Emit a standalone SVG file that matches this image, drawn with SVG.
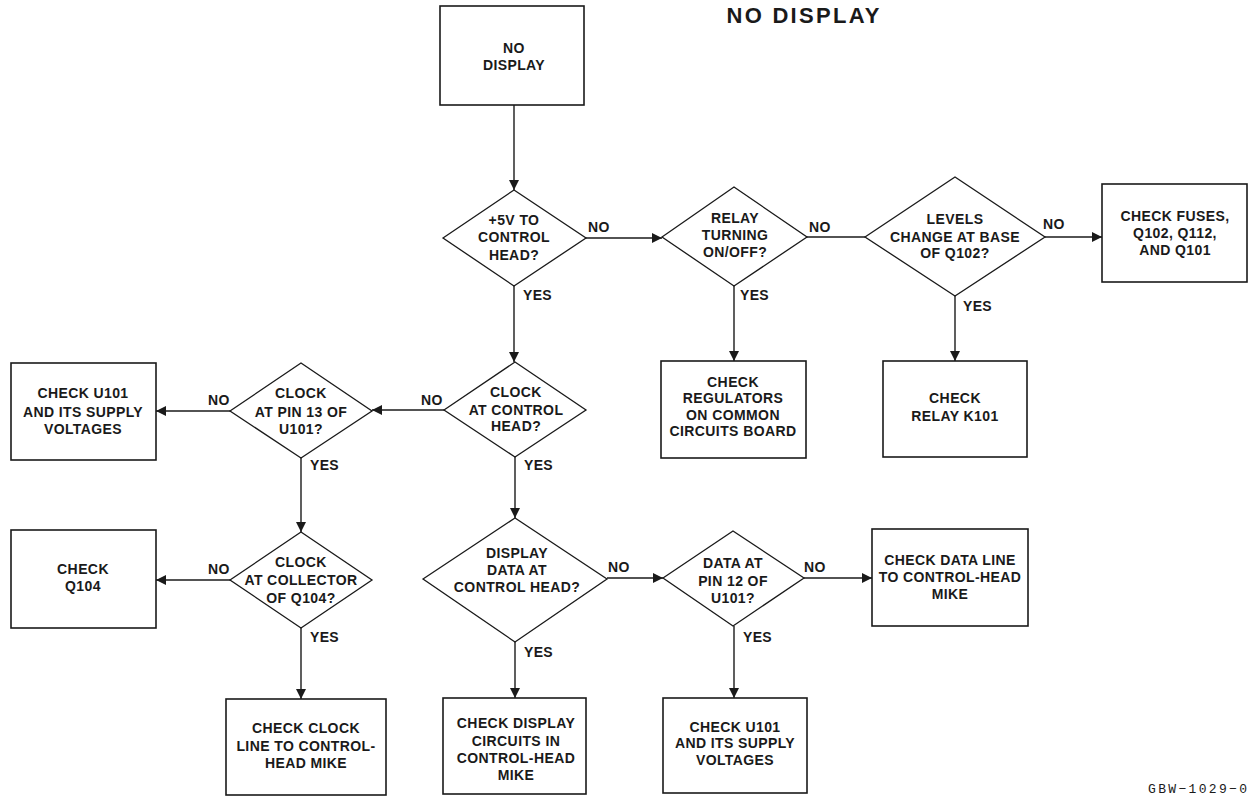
<svg xmlns="http://www.w3.org/2000/svg" width="1252" height="797" viewBox="0 0 1252 797">
<defs>
<marker id="ah" viewBox="0 0 10 10" refX="10" refY="5" markerWidth="11" markerHeight="10" markerUnits="userSpaceOnUse" orient="auto">
<path d="M0,0 L10,5 L0,10 Z" fill="#1a1a1a"/>
</marker>
<style>
.box{fill:#fff;stroke:#1a1a1a;stroke-width:1.6}
.dia{fill:#fff;stroke:#1a1a1a;stroke-width:1.3}
.t{font-family:"Liberation Sans",Arial,sans-serif;font-weight:bold;font-size:14px;fill:#1a1a1a;text-anchor:middle;letter-spacing:0.4px}
.lb{font-family:"Liberation Sans",Arial,sans-serif;font-weight:bold;font-size:14px;fill:#1a1a1a;letter-spacing:0.3px}
.c{fill:none;stroke:#1a1a1a;stroke-width:1.4}
.a{marker-end:url(#ah)}
</style>
</defs>
<rect width="1252" height="797" fill="#fff"/>
<text x="803" y="23" font-family="Liberation Sans,Arial,sans-serif" font-weight="bold" font-size="22" fill="#1a1a1a" text-anchor="middle" textLength="153" lengthAdjust="spacing">NO DISPLAY</text>
<text x="1247" y="793" font-family="Liberation Mono,DejaVu Sans Mono,monospace" font-size="13" fill="#1a1a1a" text-anchor="end" textLength="99" lengthAdjust="spacing">GBW−1029−0</text>

<g id="connectors">
<line class="c a" x1="514" y1="105" x2="514" y2="190"/>
<line class="c a" x1="586" y1="238" x2="662" y2="238"/>
<line class="c" x1="807" y1="237" x2="865" y2="237"/>
<line class="c a" x1="1045" y1="237" x2="1102" y2="237"/>
<line class="c a" x1="514" y1="286" x2="514" y2="362"/>
<line class="c a" x1="734" y1="286" x2="734" y2="361"/>
<line class="c a" x1="955" y1="296" x2="955" y2="361"/>
<line class="c a" x1="444" y1="410" x2="372" y2="410"/>
<line class="c a" x1="230" y1="411" x2="156" y2="411"/>
<line class="c a" x1="301" y1="458" x2="301" y2="532"/>
<line class="c a" x1="515" y1="457" x2="515" y2="518"/>
<line class="c a" x1="230" y1="580" x2="156" y2="580"/>
<line class="c a" x1="301" y1="628" x2="301" y2="699"/>
<line class="c a" x1="607" y1="578" x2="663" y2="578"/>
<line class="c a" x1="804" y1="578" x2="872" y2="578"/>
<line class="c a" x1="515" y1="642" x2="515" y2="698"/>
<line class="c a" x1="734" y1="626" x2="734" y2="698"/>
<text class="lb" x="588" y="232">NO</text>
<text class="lb" x="809" y="232">NO</text>
<text class="lb" x="1043" y="229">NO</text>
<text class="lb" x="523" y="300">YES</text>
<text class="lb" x="740" y="300">YES</text>
<text class="lb" x="963" y="311">YES</text>
<text class="lb" x="421" y="405">NO</text>
<text class="lb" x="208" y="405">NO</text>
<text class="lb" x="310" y="470">YES</text>
<text class="lb" x="524" y="470">YES</text>
<text class="lb" x="208" y="574">NO</text>
<text class="lb" x="310" y="642">YES</text>
<text class="lb" x="608" y="572">NO</text>
<text class="lb" x="804" y="572">NO</text>
<text class="lb" x="524" y="657">YES</text>
<text class="lb" x="743" y="642">YES</text>
</g>

<g id="start">
<rect class="box" x="440" y="6" width="144" height="99"/>
<text class="t" x="514" y="53">NO</text>
<text class="t" x="514" y="70">DISPLAY</text>
</g>
<g id="d-5v">
<polygon class="dia" points="443,238 514,190 586,238 514,286"/>
<text class="t" x="514" y="225">+5V TO</text>
<text class="t" x="514" y="242">CONTROL</text>
<text class="t" x="514" y="260">HEAD?</text>
</g>
<g id="d-relay">
<polygon class="dia" points="662,237 734,187 807,237 734,286"/>
<text class="t" x="735" y="223">RELAY</text>
<text class="t" x="735" y="240">TURNING</text>
<text class="t" x="735" y="257">ON/OFF?</text>
</g>
<g id="d-levels">
<polygon class="dia" points="865,237 955,177 1045,237 955,296"/>
<text class="t" x="955" y="224">LEVELS</text>
<text class="t" x="955" y="242">CHANGE AT BASE</text>
<text class="t" x="955" y="258">OF Q102?</text>
</g>
<g id="b-fuses">
<rect class="box" x="1102" y="184" width="145" height="98"/>
<text class="t" x="1175" y="221">CHECK FUSES,</text>
<text class="t" x="1175" y="238">Q102, Q112,</text>
<text class="t" x="1175" y="255">AND Q101</text>
</g>
<g id="b-regulators">
<rect class="box" x="661" y="361" width="145" height="97"/>
<text class="t" x="733" y="387">CHECK</text>
<text class="t" x="733" y="403">REGULATORS</text>
<text class="t" x="733" y="420">ON COMMON</text>
<text class="t" x="733" y="436">CIRCUITS BOARD</text>
</g>
<g id="b-k101">
<rect class="box" x="883" y="361" width="144" height="96"/>
<text class="t" x="955" y="403">CHECK</text>
<text class="t" x="955" y="421">RELAY K101</text>
</g>
<g id="d-clockctl">
<polygon class="dia" points="444,410 515,362 586,410 515,457"/>
<text class="t" x="516" y="397">CLOCK</text>
<text class="t" x="516" y="415">AT CONTROL</text>
<text class="t" x="516" y="431">HEAD?</text>
</g>
<g id="d-pin13">
<polygon class="dia" points="230,411 301,363 372,411 301,458"/>
<text class="t" x="301" y="398">CLOCK</text>
<text class="t" x="301" y="417">AT PIN 13 OF</text>
<text class="t" x="301" y="434">U101?</text>
</g>
<g id="b-u101a">
<rect class="box" x="11" y="363" width="145" height="97"/>
<text class="t" x="83" y="398">CHECK U101</text>
<text class="t" x="83" y="417">AND ITS SUPPLY</text>
<text class="t" x="83" y="434">VOLTAGES</text>
</g>
<g id="d-collector">
<polygon class="dia" points="230,580 301,532 372,580 301,628"/>
<text class="t" x="301" y="567">CLOCK</text>
<text class="t" x="301" y="585">AT COLLECTOR</text>
<text class="t" x="301" y="603">OF Q104?</text>
</g>
<g id="b-q104">
<rect class="box" x="11" y="530" width="145" height="98"/>
<text class="t" x="83" y="574">CHECK</text>
<text class="t" x="83" y="591">Q104</text>
</g>
<g id="b-clockline">
<rect class="box" x="226" y="699" width="160" height="96"/>
<text class="t" x="306" y="733">CHECK CLOCK</text>
<text class="t" x="306" y="751">LINE TO CONTROL-</text>
<text class="t" x="306" y="768">HEAD MIKE</text>
</g>
<g id="d-display">
<polygon class="dia" points="423,579 515,518 607,579 515,642"/>
<text class="t" x="517" y="558">DISPLAY</text>
<text class="t" x="517" y="575">DATA AT</text>
<text class="t" x="517" y="592">CONTROL HEAD?</text>
</g>
<g id="d-pin12">
<polygon class="dia" points="663,578 733,531 804,578 733,626"/>
<text class="t" x="733" y="568">DATA AT</text>
<text class="t" x="733" y="586">PIN 12 OF</text>
<text class="t" x="733" y="603">U101?</text>
</g>
<g id="b-dataline">
<rect class="box" x="872" y="529" width="156" height="97"/>
<text class="t" x="950" y="565">CHECK DATA LINE</text>
<text class="t" x="950" y="582">TO CONTROL-HEAD</text>
<text class="t" x="950" y="599">MIKE</text>
</g>
<g id="b-displaycircuits">
<rect class="box" x="443" y="698" width="143" height="96"/>
<text class="t" x="516" y="728">CHECK DISPLAY</text>
<text class="t" x="516" y="746">CIRCUITS IN</text>
<text class="t" x="516" y="763">CONTROL-HEAD</text>
<text class="t" x="516" y="780">MIKE</text>
</g>
<g id="b-u101b">
<rect class="box" x="663" y="698" width="144" height="95"/>
<text class="t" x="735" y="732">CHECK U101</text>
<text class="t" x="735" y="748">AND ITS SUPPLY</text>
<text class="t" x="735" y="765">VOLTAGES</text>
</g>
</svg>
